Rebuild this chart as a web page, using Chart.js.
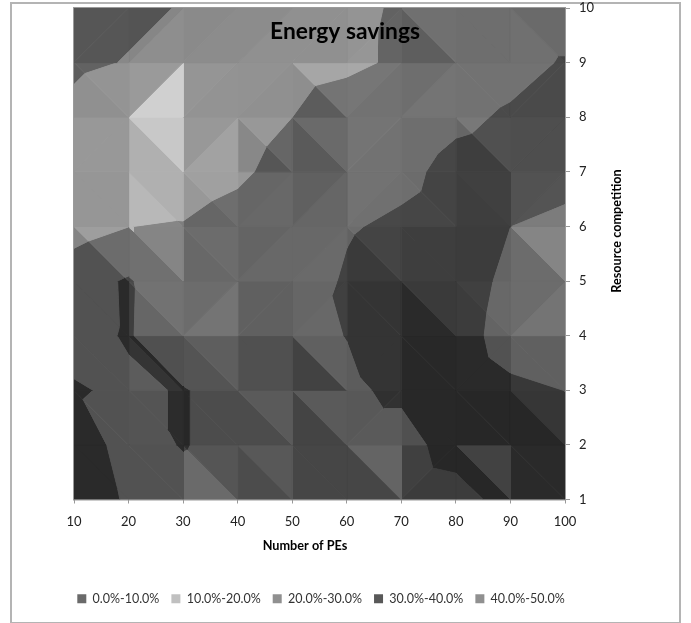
<!DOCTYPE html>
<html>
<head>
<meta charset="utf-8" />
<title>Energy savings</title>
<style>
html, body { margin: 0; padding: 0; background: #fff; }
#frame { position: absolute; left: 10px; top: 2px; width: 667px; height: 618px; border: 2px solid #b4b4b4; }
#myChart { position: absolute; left: 0; top: 0; filter: blur(0.4px); }
</style>
</head>
<body>
<div id="frame"></div>
<canvas id="myChart" width="691" height="623"></canvas>
<script src="https://cdn.jsdelivr.net/npm/chart.js@4"></script>
<script>
const peCounts = [10, 20, 30, 40, 50, 60, 70, 80, 90, 100];
const competition = [10, 9, 8, 7, 6, 5, 4, 3, 2, 1];
// energy savings in %, one row per resource competition level (top row = 10)
const savings = [
  [34, 32, 29.5, 26, 26, 27, 31.5, 33, 33, 33],
  [32, 29.5, 21.5, 24, 26, 28, 31.6, 33, 36, 41],
  [27, 22, 20.5, 21, 30, 35.5, 32, 37.5, 41.6, 44],
  [26, 22, 21, 26.5, 38, 36, 36.7, 44, 46, 46],
  [26, 29.9, 31, 38, 38, 39, 42.2, 46, 40.1, 36],
  [36, 41, 31, 33, 33, 41.5, 46, 48.6, 36, 33],
  [37, 40.8, 33, 34, 36, 40.3, 48, 47, 33.5, 33],
  [40.8, 38.5, 40.6, 36, 35, 37.5, 43, 50, 43, 39.9],
  [46, 36, 40.6, 36, 35, 34, 34, 47, 46, 44],
  [48, 38.5, 36, 34, 33, 32, 30.5, 33.5, 46.5, 46]
];
const bandLabels = ['0.0%-10.0%', '10.0%-20.0%', '20.0%-30.0%', '30.0%-40.0%', '40.0%-50.0%'];
const bandLimits = [0, 10, 20, 30, 40, 50];

// greys, kept apart from the values
const bandGrey = [106, 192, 146, 96, 56];
const legendGrey = [106, 192, 144, 88, 144];
// how each cell is cut: b = "\", f = "/"
const cellCuts = ['ffffffbbb', 'bfffbffbf', 'fbfbbfbbf', 'bbbfffbbf', 'bbbffbbfb', 'bbfffbbbf', 'bbbbbfbfb', 'bbbbbfbbb', 'bbbbbbfbb'];
// surface lighting per facet, added to the band grey
const lightUpper = [
  [-10, -12, -8, -6, -2, 2, 16, 14, 10],
  [2, 8, 3, 0, 20, 22, 14, 18, 18],
  [6, 54, 6, 6, 10, 20, 14, 24, 22],
  [4, 30, 14, 6, 0, 18, 12, 8, 26],
  [12, 37, 12, 4, 8, 12, 6, 4, 37],
  [-14, 18, 12, 0, 6, -4, 2, 8, 12],
  [-14, -16, -2, -16, 0, -4, -16, -14, 0],
  [-14, -12, -20, -6, -6, -8, -16, -17, -2],
  [-14, -14, -11, -8, -26, 4, -32, 10, -14]
];
const lightLower = [
  [-10, -4, -6, -2, -2, 4, -2, 14, 16],
  [-2, 62, 1, -2, -4, 18, 20, 18, 18],
  [6, 30, 16, -10, -6, 18, 14, 6, 22],
  [4, 38, 6, 8, 6, 16, 14, 6, 28],
  [-14, 16, 8, 8, 10, 2, 6, 4, 12],
  [-14, 6, 20, 0, 8, -4, -14, 4, 20],
  [-14, -4, -12, -16, -30, -4, -16, -14, 0],
  [-14, -12, -20, -20, -28, -6, -16, -17, -18],
  [-14, -14, 10, -20, -26, -26, -36, -36, -14]
];

function clipBand(poly, limit, keepAbove) {
  const out = [];
  for (let i = 0; i < poly.length; i++) {
    const a = poly[i], b = poly[(i + 1) % poly.length];
    const aIn = keepAbove ? a.z >= limit : a.z <= limit;
    const bIn = keepAbove ? b.z >= limit : b.z <= limit;
    if (aIn) out.push(a);
    if (aIn !== bIn) {
      const t = (limit - a.z) / (b.z - a.z);
      out.push({ x: a.x + t * (b.x - a.x), y: a.y + t * (b.y - a.y), z: limit });
    }
  }
  return out;
}

function vertex(r, c) {
  return { x: peCounts[c], y: competition[r], z: savings[r][c] };
}

// one filled dataset for every piece of a facet inside a band
function facetDatasets() {
  const sets = [];
  for (let r = 0; r < competition.length - 1; r++) {
    for (let c = 0; c < peCounts.length - 1; c++) {
      const tl = vertex(r, c), tr = vertex(r, c + 1), bl = vertex(r + 1, c), br = vertex(r + 1, c + 1);
      const facets = cellCuts[r][c] === 'b'
        ? [[tl, tr, br, lightUpper[r][c]], [tl, br, bl, lightLower[r][c]]]
        : [[tl, tr, bl, lightUpper[r][c]], [tr, br, bl, lightLower[r][c]]];
      for (const f of facets) {
        for (let b = 0; b < bandLabels.length; b++) {
          let poly = clipBand(f.slice(0, 3), bandLimits[b], true);
          if (poly.length) poly = clipBand(poly, bandLimits[b + 1], false);
          if (poly.length < 3) continue;
          const g = Math.max(39, bandGrey[b] + f[3]);
          const col = 'rgb(' + g + ',' + g + ',' + g + ')';
          sets.push({
            data: poly.map(p => ({ x: p.x, y: p.y })).concat([{ x: poly[0].x, y: poly[0].y }]),
            showLine: true, fill: 'shape', tension: 0,
            backgroundColor: col, borderColor: col, borderWidth: 1, pointRadius: 0
          });
        }
      }
    }
  }
  return sets;
}

const legendSets = bandLabels.map((label, i) => {
  const g = legendGrey[i];
  return { label: label, data: [], backgroundColor: 'rgb(' + g + ',' + g + ',' + g + ')', borderColor: '#8a8a8a', borderWidth: 0 };
});

const textFont = 'Lato, Carlito, sans-serif';

// texts that sit off the axis centres in the original
const chartTexts = {
  id: 'chartTexts',
  afterDraw(chart) {
    const ctx = chart.ctx, a = chart.chartArea;
    ctx.save();
    ctx.strokeStyle = '#9a9a9a';
    ctx.lineWidth = 1;
    ctx.strokeRect(a.left - 0.5, a.top - 0.5, a.right - a.left + 1, a.bottom - a.top + 1);
    ctx.textAlign = 'center';
    ctx.textBaseline = 'middle';
    ctx.fillStyle = '#000';
    ctx.font = 'bold 22.8px ' + textFont;
    ctx.fillText('Energy savings', 345, 32);
    ctx.font = 'bold 12.7px ' + textFont;
    ctx.fillText('Number of PEs', 305, 546);
    ctx.translate(617, 231);
    ctx.rotate(-Math.PI / 2);
    ctx.fillText('Resource competition', 0, 0);
    ctx.restore();
  }
};

new Chart(document.getElementById('myChart'), {
  type: 'scatter',
  data: { datasets: legendSets.concat(facetDatasets()) },
  plugins: [chartTexts],
  options: {
    responsive: false,
    animation: false,
    layout: { padding: { left: 10, top: 8, right: 59, bottom: 8 } },
    plugins: {
      tooltip: { enabled: false },
      legend: {
        position: 'bottom',
        labels: {
          filter: item => item.text !== undefined,
          boxWidth: 9, boxHeight: 9, padding: 12,
          color: '#333',
          font: { family: textFont, size: 12.5 }
        }
      }
    },
    scales: {
      x: {
        type: 'linear', position: 'bottom', min: 10, max: 100,
        afterFit: s => { s.height = 81; s.paddingLeft = 0; s.paddingRight = 0; },
        grid: { drawOnChartArea: false, tickLength: 4, color: '#999' },
        border: { color: '#999' },
        ticks: { stepSize: 10, padding: 11, color: '#222', maxRotation: 0, font: { family: textFont, size: 13 } }
      },
      // empty left axis, only holds the plot away from the frame
      spacer: {
        type: 'linear', position: 'left', min: 1, max: 10,
        afterFit: s => { s.width = 64; s.paddingTop = 0; s.paddingBottom = 0; },
        grid: { display: false },
        border: { display: false },
        ticks: { display: false }
      },
      y: {
        type: 'linear', position: 'right', min: 1, max: 10,
        afterFit: s => { s.width = 67; s.paddingTop = 0; s.paddingBottom = 0; },
        grid: { drawOnChartArea: false, tickLength: 5, color: '#999' },
        border: { color: '#999' },
        ticks: { stepSize: 1, padding: 9, color: '#222', font: { family: textFont, size: 13 } }
      }
    }
  }
});
</script>
</body>
</html>
